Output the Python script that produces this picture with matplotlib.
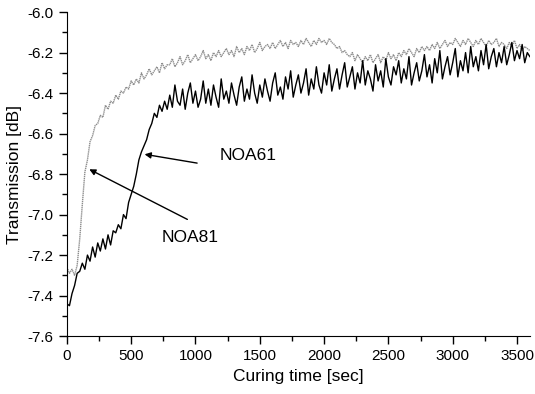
import numpy as np
import matplotlib.pyplot as plt
from matplotlib.ticker import MultipleLocator

plt.rcParams['font.family'] = ['Liberation Sans', 'DejaVu Sans']

# Tiempo de curado, una lectura cada 20 s
curing_time = np.arange(0, 3601, 20)

# NOA61 (curva negra)
noa61 = [
    -7.44, -7.45, -7.39, -7.35, -7.29, -7.28, -7.24, -7.27, -7.20, -7.23,
    -7.16, -7.21, -7.14, -7.18, -7.12, -7.17, -7.10, -7.15, -7.08, -7.09,
    -7.05, -7.07, -7.00, -7.02, -6.94, -6.90, -6.86, -6.80, -6.73, -6.69,
    -6.66, -6.63, -6.58, -6.55, -6.50, -6.52, -6.46, -6.49, -6.44, -6.48,
    -6.41, -6.47, -6.36, -6.44, -6.46, -6.38, -6.48, -6.40, -6.35, -6.45,
    -6.39, -6.47, -6.43, -6.34, -6.45, -6.38, -6.46, -6.36, -6.42, -6.47,
    -6.33, -6.43, -6.39, -6.45, -6.35, -6.41, -6.46, -6.37, -6.32, -6.44,
    -6.38, -6.43, -6.31, -6.40, -6.45, -6.36, -6.42, -6.33, -6.39, -6.44,
    -6.35, -6.30, -6.41, -6.37, -6.43, -6.32, -6.38, -6.29, -6.42, -6.36,
    -6.31, -6.40, -6.35, -6.28, -6.41, -6.33, -6.38, -6.27, -6.36, -6.40,
    -6.30, -6.36, -6.26, -6.39, -6.33, -6.28, -6.38, -6.31, -6.25, -6.37,
    -6.32, -6.27, -6.38, -6.30, -6.35, -6.24, -6.36, -6.29, -6.33, -6.39,
    -6.26, -6.34, -6.29, -6.37, -6.23, -6.32, -6.36, -6.27, -6.31, -6.24,
    -6.35, -6.28, -6.33, -6.22, -6.36, -6.30, -6.25, -6.34, -6.29, -6.21,
    -6.32, -6.26, -6.35, -6.23, -6.30, -6.19, -6.33, -6.27, -6.22, -6.31,
    -6.25, -6.18, -6.32, -6.24, -6.29, -6.20, -6.30, -6.17, -6.27, -6.22,
    -6.29, -6.19, -6.26, -6.16, -6.28, -6.22, -6.18, -6.27, -6.20, -6.25,
    -6.17, -6.26, -6.21, -6.15, -6.24, -6.19, -6.23, -6.16, -6.25, -6.20,
    -6.22,
]

# NOA81 (curva gris)
noa81 = [
    -7.26, -7.29, -7.27, -7.30, -7.25, -7.12, -6.95, -6.79, -6.73, -6.64,
    -6.61, -6.56, -6.55, -6.51, -6.52, -6.46, -6.48, -6.44, -6.45, -6.41,
    -6.43, -6.39, -6.40, -6.37, -6.38, -6.34, -6.36, -6.33, -6.35, -6.30,
    -6.33, -6.31, -6.28, -6.31, -6.29, -6.27, -6.30, -6.25, -6.28, -6.26,
    -6.26, -6.23, -6.27, -6.25, -6.22, -6.26, -6.24, -6.21, -6.25, -6.23,
    -6.21, -6.24, -6.22, -6.19, -6.23, -6.21, -6.24, -6.20, -6.22, -6.19,
    -6.22, -6.20, -6.18, -6.21, -6.19, -6.22, -6.17, -6.20, -6.18, -6.21,
    -6.17, -6.19, -6.16, -6.20, -6.18, -6.15, -6.19, -6.17, -6.16, -6.18,
    -6.15, -6.18, -6.16, -6.14, -6.17, -6.15, -6.18, -6.14, -6.16, -6.15,
    -6.17, -6.14, -6.16, -6.13, -6.15, -6.17, -6.14, -6.16, -6.13, -6.15,
    -6.14, -6.16, -6.13, -6.15, -6.16, -6.18, -6.17, -6.20, -6.19, -6.21,
    -6.22, -6.20, -6.24, -6.21, -6.23, -6.25, -6.22, -6.24, -6.21, -6.25,
    -6.23, -6.21, -6.25, -6.22, -6.24, -6.20, -6.23, -6.21, -6.24, -6.20,
    -6.22, -6.19, -6.21, -6.18, -6.20, -6.22, -6.18, -6.20, -6.17, -6.19,
    -6.17, -6.19, -6.16, -6.18, -6.15, -6.18, -6.16, -6.14, -6.17, -6.15,
    -6.16, -6.13, -6.15, -6.17, -6.14, -6.16, -6.13, -6.15, -6.17, -6.14,
    -6.16, -6.13, -6.15, -6.17, -6.14, -6.16, -6.15, -6.13, -6.17, -6.15,
    -6.16, -6.18, -6.15, -6.17, -6.14, -6.18, -6.16, -6.19, -6.17, -6.18,
    -6.19,
]

fig = plt.figure(figsize=(5.35, 3.94), dpi=100)
ax = fig.add_axes([0.125, 0.147, 0.8654, 0.8223])

ax.plot(curing_time, noa81, color='#8c8c8c', lw=1.0, linestyle=(0, (1, 0.5)))
ax.plot(curing_time, noa61, color='black', lw=1.0)

# Flechas y etiquetas
ax.annotate('', xy=(583, -6.70), xytext=(1034, -6.748),
            arrowprops=dict(arrowstyle='-|>', color='black', lw=1, mutation_scale=9))
ax.text(1185, -6.708, 'NOA61', fontsize=12.5, va='center', ha='left')
ax.annotate('', xy=(155, -6.77), xytext=(956, -7.03),
            arrowprops=dict(arrowstyle='-|>', color='black', lw=1, mutation_scale=9))
ax.text(739, -7.115, 'NOA81', fontsize=12.5, va='center', ha='left')

ax.set_xlim(0, 3600)
ax.set_ylim(-7.6, -6.0)
ax.xaxis.set_major_locator(MultipleLocator(500))
ax.xaxis.set_minor_locator(MultipleLocator(250))
ax.yaxis.set_major_locator(MultipleLocator(0.2))
ax.yaxis.set_minor_locator(MultipleLocator(0.1))
ax.yaxis.set_major_formatter(plt.FuncFormatter(lambda v, p: f'{v:.1f}'))
ax.tick_params(which='major', direction='out', length=6, width=1, labelsize=11)
ax.tick_params(which='minor', direction='out', length=3.5, width=1)
ax.spines['top'].set_visible(False)
ax.spines['right'].set_visible(False)

ax.set_xlabel('Curing time [sec]', fontsize=12.5, labelpad=4)
ax.set_ylabel('Transmission [dB]', fontsize=12.5, labelpad=4)

fig.savefig('out.png', dpi=100)
